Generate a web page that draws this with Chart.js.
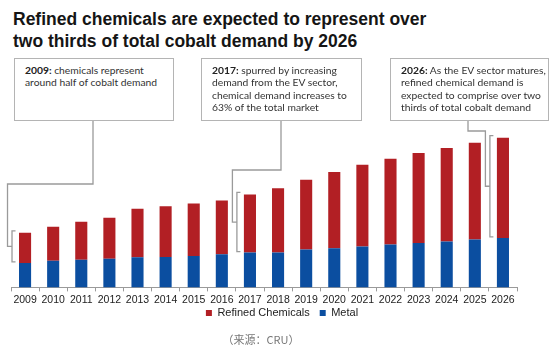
<!DOCTYPE html>
<html>
<head>
<meta charset="utf-8">
<script src="https://cdn.jsdelivr.net/npm/chart.js@4.4.1/dist/chart.umd.min.js"></script>
<style>
  html, body { margin: 0; padding: 0; background: #fff; }
  body { width: 550px; height: 347px; position: relative; overflow: hidden; font-family: "Liberation Sans", Arial, sans-serif; }
  #wrap { position: absolute; left: 0; top: 0; width: 550px; height: 339px; }
  .title { position: absolute; left: 13px; font-weight: bold; font-size: 17.5px; line-height: 20px; color: #151515; white-space: nowrap; }
  .box { position: absolute; top: 58px; height: 63px; border: 1px solid #b4b4b4; background: #fff; box-sizing: border-box;
         font-family: Lato, "Open Sans", sans-serif; font-size: 10.3px; line-height: 12.3px; color: #333; padding: 5px 0 0 10px; white-space: nowrap; }
  .box b { color: #222; }
  #src { position: absolute; top: 331px; left: 0; width: 522px; text-align: center; font-family: "Noto Sans CJK SC", sans-serif; font-size: 11px; color: #777; }
</style>
</head>
<body>
<div class="title" style="top:9px;">Refined chemicals are expected to represent over</div>
<div class="title" style="top:31px;">two thirds of total cobalt demand by 2026</div>
<div id="wrap"><canvas id="c" width="550" height="339"></canvas></div>
<div class="box" style="left:14px;width:160px;"><b>2009:</b> chemicals represent<br>around half of cobalt demand</div>
<div class="box" style="left:201px;width:161px;"><b>2017:</b> spurred by increasing<br>demand from the EV sector,<br>chemical demand increases to<br>63% of the total market</div>
<div class="box" style="left:390px;width:159px;"><b>2026:</b> As the EV sector matures,<br>refined chemical demand is<br>expected to comprise over two<br>thirds of total cobalt demand</div>
<div id="src">（来源：CRU）</div>
<script>
const years = ["2009","2010","2011","2012","2013","2014","2015","2016","2017","2018","2019","2020","2021","2022","2023","2024","2025","2026"];
const metal = [24.4, 26.7, 27.7, 28.7, 30.0, 30.4, 31.4, 33.0, 34.7, 34.7, 37.7, 39.0, 40.7, 42.7, 44.4, 45.7, 47.7, 49.4];
const refinedChemicals = [30.0, 33.7, 37.7, 40.7, 48.4, 50.6, 52.3, 53.7, 58.0, 64.3, 69.7, 76.0, 81.7, 85.7, 89.6, 93.3, 96.7, 100.0];

// annotation callouts: bar index, box bottom-centre x, elbow y
const callouts = [
  { index: 0,  boxX: 93,  boxBottom: 121, elbowY: 184 },
  { index: 8,  boxX: 281, boxBottom: 121, elbowY: 170 },
  { index: 17, boxX: 468, boxBottom: 121, elbowY: 131 }
];

const calloutPlugin = {
  id: 'callouts',
  afterLayout(chart) {
    const lg = chart.legend;
    if (lg) {
      lg.left += 18; lg.right += 18;
      const h = lg.bottom - lg.top;
      lg.top = 297.5; lg.bottom = lg.top + h;
    }
  },
  afterDatasetsDraw(chart) {
    const ctx = chart.ctx;
    const y = chart.scales.y;
    const meta = chart.getDatasetMeta(1);
    ctx.save();
    ctx.strokeStyle = '#9a9a9a';
    ctx.lineWidth = 1.3;
    callouts.forEach(c => {
      const bar = meta.data[c.index];
      const left = bar.x - bar.width / 2;
      const bx = left - 7;
      const top = y.getPixelForValue(metal[c.index] + refinedChemicals[c.index]) - 2;
      const bottom = y.getPixelForValue(metal[c.index]) - 1;
      const mid = (top + bottom) / 2;
      const vx = bx - 4.5;
      ctx.beginPath();
      ctx.moveTo(bx + 3.5, top);
      ctx.lineTo(bx, top);
      ctx.lineTo(bx, bottom);
      ctx.lineTo(bx + 3.5, bottom);
      ctx.stroke();
      ctx.beginPath();
      ctx.moveTo(c.boxX, c.boxBottom);
      ctx.lineTo(c.boxX, c.elbowY);
      ctx.lineTo(vx, c.elbowY);
      ctx.lineTo(vx, mid);
      ctx.lineTo(bx, mid);
      ctx.stroke();
    });
    ctx.restore();
  }
};

new Chart(document.getElementById('c'), {
  type: 'bar',
  data: {
    labels: years,
    datasets: [
      { label: 'Metal', data: metal, backgroundColor: '#0b4ea0' },
      { label: 'Refined Chemicals', data: refinedChemicals, backgroundColor: '#b21f24' }
    ]
  },
  options: {
    responsive: false,
    animation: false,
    devicePixelRatio: 1,
    layout: { padding: { left: 11, right: 33, top: 127, bottom: 0 } },
    datasets: { bar: { categoryPercentage: 1, barPercentage: 0.43 } },
    scales: {
      x: {
        stacked: true,
        offset: true,
        grid: { display: true, drawOnChartArea: false, tickLength: 4, color: '#9a9a9a', offset: true },
        border: { display: true, color: '#9a9a9a' },
        ticks: { color: '#222', font: { family: '"Liberation Sans", Arial', size: 10.5 }, padding: 2, maxRotation: 0, autoSkip: false }
      },
      y: { stacked: true, display: false, min: 0, max: 160 }
    },
    plugins: {
      legend: {
        position: 'bottom',
        reverse: true,
        labels: { boxWidth: 6, boxHeight: 6, padding: 10, color: '#222', font: { family: '"Liberation Sans", Arial', size: 11 } }
      },
      tooltip: { enabled: false }
    }
  },
  plugins: [calloutPlugin]
});
</script>
</body>
</html>
